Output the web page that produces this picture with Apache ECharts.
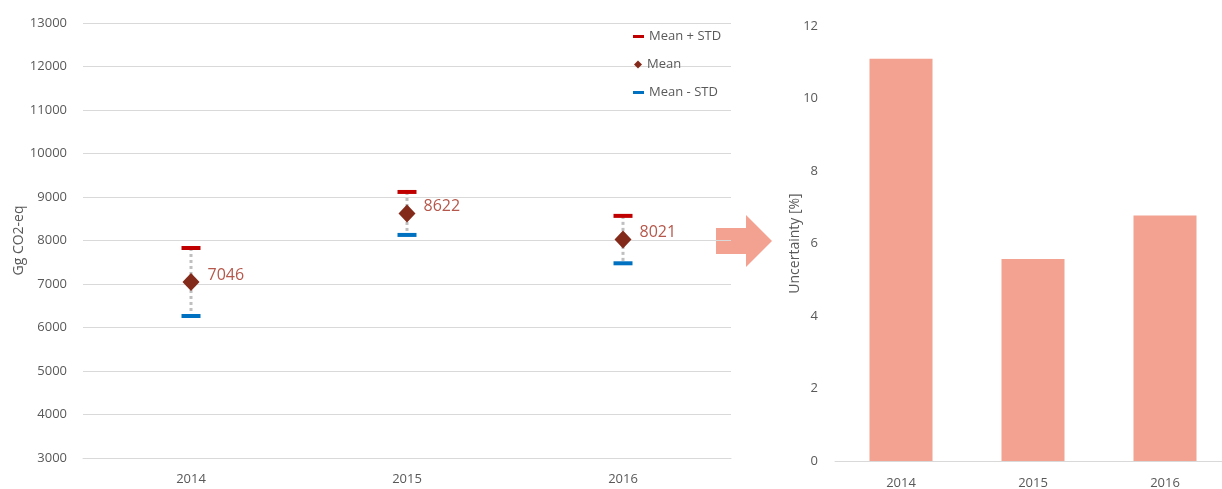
<!DOCTYPE html>
<html>
<head>
<meta charset="utf-8">
<script src="https://cdn.jsdelivr.net/npm/echarts@6/dist/echarts.min.js"></script>
<style>
html,body{margin:0;padding:0;background:#fff;}
#chart{width:1222px;height:489px;}
</style>
</head>
<body>
<div id="chart"></div>
<script>
// Data
const years = ['2014', '2015', '2016'];
const meanValues = [7046, 8622, 8021];
const meanPlusStd = [7828, 9116, 8566];
const meanMinusStd = [6264, 8128, 7476];
const uncertainty = [11.1, 5.57, 6.77];
const leftTicks = [3000, 13000, 1000];
const rightTicks = [0, 12, 2];

const FONT = '"Open Sans", "Noto Sans", sans-serif';
const labelColor = '#595959';
const gridColor = '#D9D9D9';

const chart = echarts.init(document.getElementById('chart'), null, {renderer: 'canvas'});

const errData = years.map((y, i) => [i, meanPlusStd[i], meanMinusStd[i]]);

const option = {
  animation: false,
  textStyle: {fontFamily: FONT},
  grid: [
    {left: 83, right: 491, top: 23, bottom: 31, containLabel: false, outerBoundsMode: 'none'},
    {left: 835, width: 396, top: 26, bottom: 28, containLabel: false, outerBoundsMode: 'none'}
  ],
  xAxis: [
    {
      type: 'category', data: years, gridIndex: 0,
      axisLine: {lineStyle: {color: gridColor, width: 1}},
      axisTick: {show: false},
      axisLabel: {color: labelColor, fontSize: 13, fontFamily: FONT, margin: 15}
    },
    {
      type: 'category', data: years, gridIndex: 1,
      axisLine: {lineStyle: {color: gridColor, width: 1}},
      axisTick: {show: false},
      axisLabel: {color: labelColor, fontSize: 13, fontFamily: FONT, margin: 16}
    }
  ],
  yAxis: [
    {
      type: 'value', gridIndex: 0,
      min: leftTicks[0], max: leftTicks[1], interval: leftTicks[2],
      name: 'Gg CO2-eq', nameLocation: 'middle', nameGap: 57, nameMoveOverlap: false,
      nameTextStyle: {color: labelColor, fontSize: 14, fontFamily: FONT},
      axisLine: {show: false}, axisTick: {show: false},
      axisLabel: {color: labelColor, fontSize: 13, fontFamily: FONT, margin: 16, formatter: v => String(v)},
      splitLine: {lineStyle: {color: gridColor, width: 1}}
    },
    {
      type: 'value', gridIndex: 1,
      min: rightTicks[0], max: rightTicks[1], interval: rightTicks[2],
      name: 'Uncertainty [%]', nameLocation: 'middle', nameGap: 33, nameMoveOverlap: false,
      nameTextStyle: {color: labelColor, fontSize: 14, fontFamily: FONT},
      axisLine: {show: false}, axisTick: {show: false},
      axisLabel: {color: labelColor, fontSize: 13, fontFamily: FONT, margin: 17},
      splitLine: {show: false}
    }
  ],
  legend: [
    {
      data: [{name: 'Mean + STD', icon: 'rect'}],
      left: 633, top: 30, padding: 0, itemWidth: 11, itemHeight: 3, itemGap: 4,
      textStyle: {color: labelColor, fontSize: 13, fontFamily: FONT},
      selectedMode: false
    },
    {
      data: [{name: 'Mean', icon: 'diamond'}],
      left: 634, top: 58, padding: 0, itemWidth: 8, itemHeight: 8, itemGap: 4,
      textStyle: {color: labelColor, fontSize: 13, fontFamily: FONT},
      selectedMode: false
    },
    {
      data: [{name: 'Mean - STD', icon: 'rect'}],
      left: 633, top: 86, padding: 0, itemWidth: 11, itemHeight: 3, itemGap: 4,
      textStyle: {color: labelColor, fontSize: 13, fontFamily: FONT},
      selectedMode: false
    }
  ],
  series: [
    {
      type: 'custom', name: 'err', xAxisIndex: 0, yAxisIndex: 0,
      data: errData, z: 1,
      renderItem: function (params, api) {
        const top = api.coord([api.value(0), api.value(1)]);
        const bot = api.coord([api.value(0), api.value(2)]);
        return {
          type: 'line',
          shape: {x1: top[0], y1: top[1], x2: bot[0], y2: bot[1]},
          style: {stroke: '#BFBFBF', lineWidth: 3, lineDash: [3, 3]}
        };
      }
    },
    {
      type: 'scatter', name: 'Mean + STD', xAxisIndex: 0, yAxisIndex: 0,
      data: meanPlusStd, symbol: 'rect', symbolSize: [19, 4], z: 3,
      itemStyle: {color: '#C00000', opacity: 1}
    },
    {
      type: 'scatter', name: 'Mean - STD', xAxisIndex: 0, yAxisIndex: 0,
      data: meanMinusStd, symbol: 'rect', symbolSize: [19, 4], z: 3,
      itemStyle: {color: '#0070C0', opacity: 1}
    },
    {
      type: 'scatter', name: 'Mean', xAxisIndex: 0, yAxisIndex: 0,
      data: meanValues, symbol: 'diamond', symbolSize: [17, 18], z: 4,
      itemStyle: {color: '#842A1B', opacity: 1},
      label: {
        show: true, position: 'right', distance: 8,
        color: '#B5574A', fontSize: 16, fontFamily: FONT,
        offset: [0, -7],
        formatter: p => String(p.value)
      }
    },
    {
      type: 'bar', name: 'Uncertainty', xAxisIndex: 1, yAxisIndex: 1,
      data: uncertainty, barWidth: 63,
      itemStyle: {color: '#F3A191'}
    }
  ],
  graphic: [
    {
      type: 'polygon',
      shape: {points: [[716, 228], [746, 228], [746, 215], [772, 241], [746, 267], [746, 254], [716, 254]]},
      style: {fill: '#F3A191'}
    }
  ]
};
chart.setOption(option);
</script>
</body>
</html>
